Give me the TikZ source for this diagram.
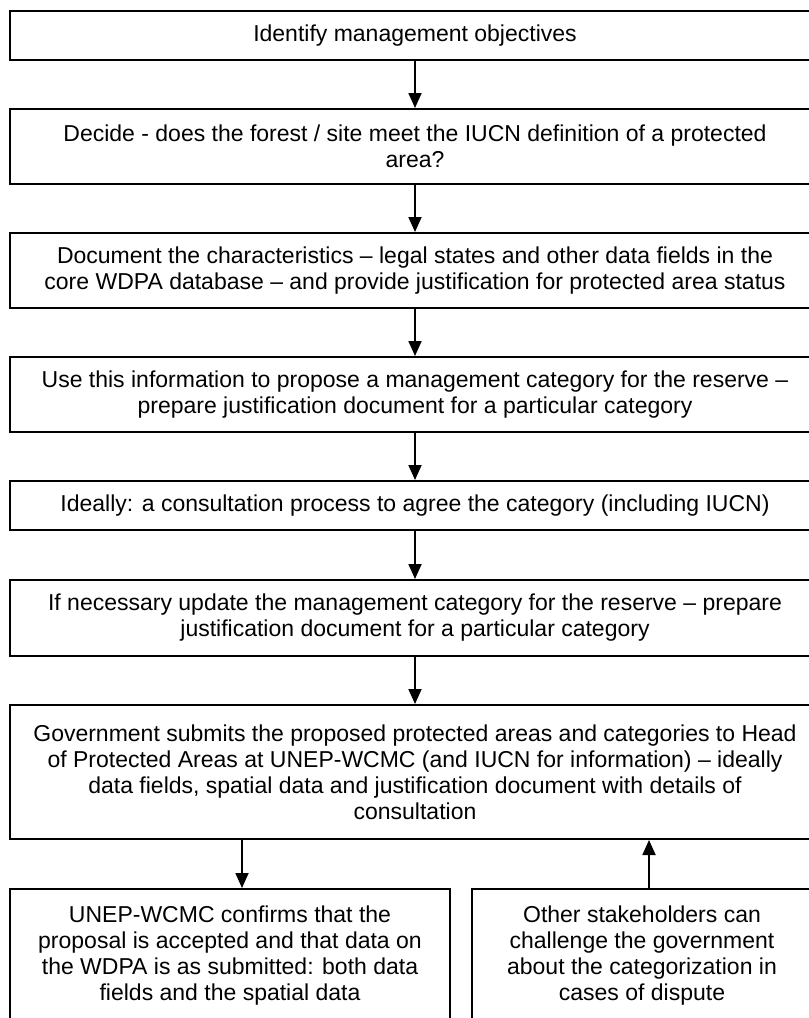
\documentclass[tikz,border=0pt]{standalone}
\usepackage{fontspec}
\setmainfont{Liberation Sans}
\usetikzlibrary{arrows.meta}
\begin{document}
\begin{tikzpicture}[x=1pt,y=-1pt,
  box/.style={draw=black, line width=2pt, align=center, inner sep=0pt,
    font=\fontsize{23}{26}\selectfont},
  arr/.style={draw=black, line width=1.8pt, -{Triangle[width=13pt,length=15pt]}}]
\useasboundingbox (0,0) rectangle (809,1018);
\fill[white] (0,0) rectangle (809,1018);
\clip (0,0) rectangle (809,1018);
\node[box, minimum width=810, minimum height=49] (b1) at (415,35.5) {Identify management objectives};
\node[box, minimum width=810, minimum height=75] (b2) at (415,146.5) {Decide - does the forest / site meet the IUCN definition of a protected\\ area?};
\node[box, minimum width=810, minimum height=75] (b3) at (415,270.5) {Document the characteristics -- legal states and other data fields in the\\ core WDPA database -- and provide justification for protected area status};
\node[box, minimum width=810, minimum height=75] (b4) at (415,394.5) {Use this information to propose a management category for the reserve --\\ prepare justification document for a particular category};
\node[box, minimum width=810, minimum height=49] (b5) at (415,505.5) {Ideally: a consultation process to agree the category (including IUCN)};
\node[box, minimum width=810, minimum height=76] (b6) at (415,618) {If necessary update the management category for the reserve -- prepare\\ justification document for a particular category};
\node[box, minimum width=810, minimum height=134] (b7) at (415,772) {Government submits the proposed protected areas and categories to Head\\ of Protected Areas at UNEP-WCMC (and IUCN for information) -- ideally\\ data fields, spatial data and justification document with details of\\ consultation};
\node[box, minimum width=440, minimum height=134] (b8) at (230,956) {UNEP-WCMC confirms that the\\ proposal is accepted and that data on\\ the WDPA is as submitted: both data\\ fields and the spatial data};
\node[box, minimum width=340, minimum height=134] (b9) at (642,956) {Other stakeholders can\\ challenge the government\\ about the categorization in\\ cases of dispute};
\draw[arr] (b1.south) -- (b2.north);
\draw[arr] (b2.south) -- (b3.north);
\draw[arr] (b3.south) -- (b4.north);
\draw[arr] (b4.south) -- (b5.north);
\draw[arr] (b5.south) -- (b6.north);
\draw[arr] (b6.south) -- (b7.north);
\draw[arr] (b7.south -| 242,0) -- (b8.north -| 242,0);
\draw[arr] (b9.north -| 649,0) -- (b7.south -| 649,0);
\end{tikzpicture}
\end{document}
